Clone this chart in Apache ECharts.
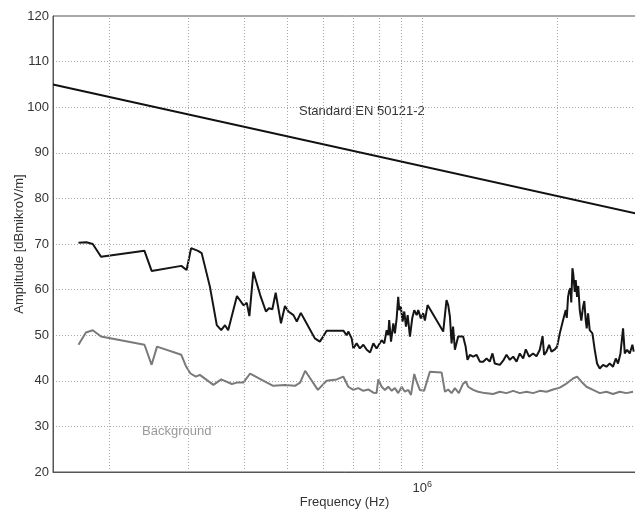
<!DOCTYPE html>
<html>
<head>
<meta charset="utf-8">
<script src="https://cdn.jsdelivr.net/npm/echarts@6/dist/echarts.min.js"></script>
<style>html,body{margin:0;padding:0;background:#fff;}#c{width:635px;height:511px;}</style>
</head>
<body>
<div id="c"></div>
<script>
// Measured emission (black), frequency in kHz and amplitude in dBµV/m
var measFreqKHz = [171,178,184,192,240,249,290,298,305,316,322,336,348,356,363,369,386,399,406,411.5,420,435,448,455,463,471,484,494,503,516,525,536,557,576,591,602,612,667,678,684,696,702,714,726,739,752,765,778,791,798,812,823,833,840,844,852,862,869,877,884,889,896,904,912,920,928,939,950,960,972,980,993,1005,1014,1028,1114,1133,1143,1153,1163,1172,1183,1203,1234,1250,1262,1278,1299,1322,1345,1368,1392,1415,1435,1452,1490,1516,1542,1569,1596,1624,1651,1680,1703,1732,1768,1799,1830,1856,1871,1894,1920,1943,1977,2000,2028,2062,2091,2102,2116,2129,2142,2151,2164,2173,2182,2190,2201,2216,2230,2247,2265,2286,2300,2317,2329,2345,2353,2365,2398,2427,2456,2490,2533,2577,2621,2666,2704,2735,2770,2807,2832,2865,2905,2945,2965];
var measAmp = [70.3,70.4,70.0,67.2,68.5,64.1,65.2,64.3,69.1,68.5,68.0,60.6,52.2,51.1,52.2,51.1,58.6,56.6,57.1,54.2,63.9,58.8,55.2,55.9,55.7,59.3,52.6,56.4,55.2,54.4,53.0,54.9,51.9,49.3,48.6,49.8,51.0,51.0,50.0,50.8,49.3,47.1,48.2,47.1,47.9,46.8,46.2,48.2,47.1,46.8,48.9,48.2,51.1,50.0,53.3,48.6,52.6,50.4,53.7,58.4,55.5,56.3,53.0,55.2,51.9,54.4,49.7,53.7,55.5,54.4,55.5,53.7,54.8,53.2,56.6,50.8,57.7,56.6,54.1,48.2,51.9,46.8,49.7,49.7,47.5,44.6,45.7,45.3,45.7,44.2,44.2,44.9,44.2,46.0,43.8,43.5,44.4,45.7,44.6,45.3,44.2,46.0,44.9,46.9,45.3,46.0,45.4,46.8,49.8,45.7,46.4,47.9,46.4,46.9,47.5,50.4,53.3,55.5,53.8,58.4,59.8,60.3,57.2,64.7,63.5,61.4,59.5,62.1,58.4,60.8,55.5,53.2,56.3,57.5,53.3,51.5,54.8,55.0,51.1,50.4,46.8,43.8,42.7,43.5,43.1,43.8,43.1,44.9,43.8,46.0,51.5,46.0,46.8,46.0,47.9,46.4];

// Background (grey)
var bgFreqKHz = [171,177.6,184,192,240,249,256,290,297,304,312.5,319,342,356,376,386,399,413,438.5,465,494,520,534,548,585,612,644.5,667,684,702,720,739,758,778,791,798,812,826,840,855,869,884,900,915,931,944,960,972,988,1010,1040,1105,1124,1143,1163,1183,1207,1234,1252,1266,1299,1333,1380,1440,1490,1542,1596,1651,1709,1768,1830,1894,1960,2028,2099,2171,2216,2267,2326,2406,2490,2577,2666,2759,2856,2955];
var bgAmp = [47.9,50.6,51.1,49.7,47.9,43.5,47.5,45.7,43.2,41.6,40.9,41.3,39.1,40.3,39.3,39.6,39.6,41.6,40.2,38.9,39.1,38.9,39.6,42.2,38.0,40.0,40.3,40.9,38.7,38.0,38.4,37.8,38.1,37.4,37.3,40.3,38.7,38.0,38.7,37.8,38.4,37.3,38.7,37.6,38.0,36.9,41.5,39.8,38.0,37.8,42.0,41.8,37.6,38.1,37.3,38.4,37.3,39.4,39.8,38.7,38.0,37.6,37.3,37.1,37.6,37.3,37.8,37.3,37.6,37.3,37.8,37.6,38.1,38.5,39.4,40.5,40.9,39.8,38.7,38.0,37.3,37.6,37.1,37.6,37.3,37.6];

// Limit line, Standard EN 50121-2
var stdFreqKHz = [150, 3000];
var stdAmp = [105, 76.7];

// Axis ranges, ticks and grid lines
var xMinHz = 150000, xMaxHz = 3000000;
var yMin = 20, yMax = 120, yStep = 10;
var vGridHz = [200000,300000,400000,500000,600000,700000,800000,900000,1000000,2000000];

function pairs(fk, a){ return fk.map(function(f,i){ return [f*1000, a[i]]; }); }

var FONT = "'Liberation Sans', Arial, Helvetica, sans-serif";
var chart = echarts.init(document.getElementById('c'), null, {renderer:'canvas'});
chart.setOption({
  animation: false,
  backgroundColor: '#ffffff',
  textStyle: {fontFamily: FONT},
  grid: {left: 53, top: 16, width: 583, height: 456, containLabel: false, outerBoundsMode: 'none',
         show: true, borderColor: '#555', borderWidth: 1, backgroundColor: 'transparent'},
  xAxis: {
    type: 'log', logBase: 10, min: xMinHz, max: xMaxHz,
    name: 'Frequency (Hz)', nameLocation: 'middle', nameGap: 24, nameMoveOverlap: false,
    nameTextStyle: {color: '#333', fontSize: 13, fontFamily: FONT},
    axisLine: {show: true, lineStyle: {color: '#555', width: 1}},
    axisTick: {show: false},
    splitLine: {show: false},
    axisLabel: {
      showMinLabel: false, showMaxLabel: false, margin: 8,
      formatter: function(v){ return Math.abs(v - 1000000) < 1 ? '{b|10}{s|6}' : ''; },
      rich: {
        b: {fontSize: 13, color: '#333', fontFamily: FONT},
        s: {fontSize: 9, color: '#333', fontFamily: FONT, verticalAlign: 'top', padding: [0,0,8,0]}
      }
    }
  },
  yAxis: {
    type: 'value', min: yMin, max: yMax, interval: yStep,
    name: 'Amplitude [dBmikroV/m]', nameLocation: 'middle', nameGap: 27, nameRotate: 90, nameMoveOverlap: false,
    nameTextStyle: {color: '#333', fontSize: 13, fontFamily: FONT},
    axisLine: {show: true, lineStyle: {color: '#555', width: 1}},
    axisTick: {show: false},
    axisLabel: {color: '#333', fontSize: 13, margin: 4, fontFamily: FONT},
    splitLine: {show: true, lineStyle: {color: '#a8a8a8', width: 1, type: [1, 2]}}
  },
  series: [
    {
      type: 'line', name: 'grid', data: [], silent: true,
      markLine: {
        silent: true, symbol: ['none','none'], animation: false,
        label: {show: false},
        lineStyle: {color: '#a8a8a8', width: 1, type: [1, 2]},
        data: vGridHz.map(function(v){ return {xAxis: v}; })
      }
    },
    {
      type: 'line', name: 'Background', data: pairs(bgFreqKHz, bgAmp),
      showSymbol: false, symbol: 'none', lineStyle: {color: '#7a7a7a', width: 2}, z: 3
    },
    {
      type: 'line', name: 'Measured', data: pairs(measFreqKHz, measAmp),
      showSymbol: false, symbol: 'none', lineStyle: {color: '#151515', width: 2}, z: 4
    },
    {
      type: 'line', name: 'Standard EN 50121-2', data: pairs(stdFreqKHz, stdAmp),
      showSymbol: false, symbol: 'none', lineStyle: {color: '#111', width: 2}, z: 5
    }
  ],
  graphic: [
    {type: 'text', left: 299, top: 105, style: {text: 'Standard EN 50121-2', fill: '#333', font: '13px ' + FONT}},
    {type: 'text', left: 142, top: 425, style: {text: 'Background', fill: '#999', font: '13px ' + FONT}}
  ]
});
</script>
</body>
</html>
